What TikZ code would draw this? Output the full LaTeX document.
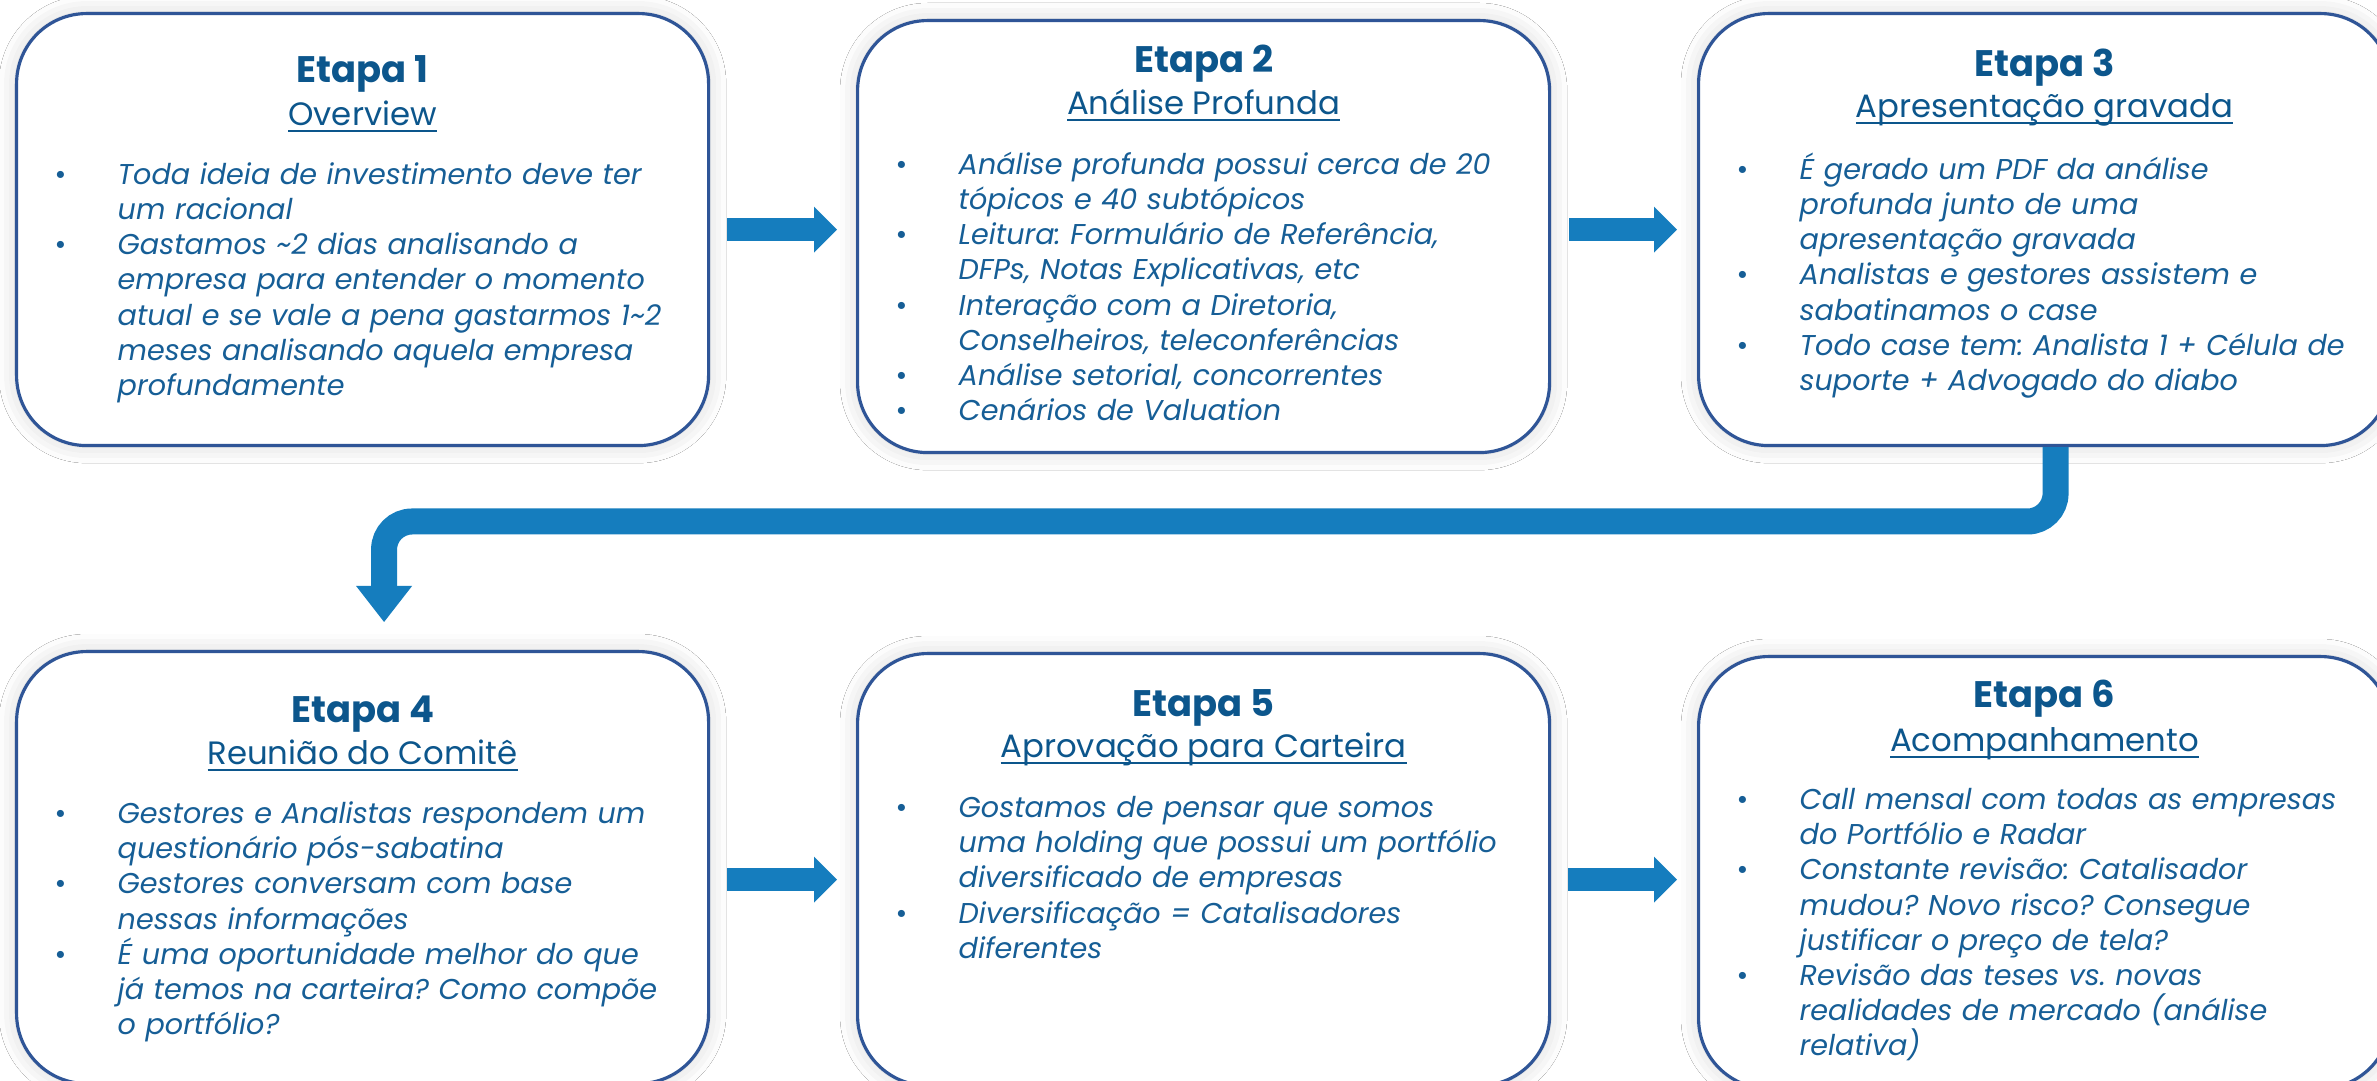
\documentclass[tikz,border=0pt]{standalone}
\usepackage{fontspec}
\setmainfont{Poppins}
\usetikzlibrary{calc, arrows.meta, shadows.blur}

\definecolor{etapaborder}{RGB}{47,85,151}
\definecolor{titleblue}{RGB}{12,86,140}
\definecolor{textblue}{RGB}{22,94,150}
\definecolor{flowblue}{RGB}{21,125,190}

\setlength{\parindent}{0pt}
\frenchspacing
\newcommand{\stageul}[1]{\underline{\smash{#1}}}
\newcommand{\bulfirst}{\noindent\makebox[0.57cm][l]{\hspace*{-0.06cm}\upshape\textbullet}}
\newcommand{\bul}{\par\bulfirst}
\newcommand{\cont}{\par\noindent\hspace*{0.57cm}}

\tikzset{
    etapa/.style = {draw = etapaborder, line width = 0.9pt, fill = white, rounded corners = 0.7cm,
        minimum width = 6.92cm, minimum height = 4.32cm, inner sep = 0pt, anchor = north west,
        blur shadow = {shadow xshift = 0pt, shadow yshift = 0pt, shadow blur radius = 5pt, shadow opacity = 18}},
    etapatitle/.style = {anchor = base, inner sep = 0pt, text = titleblue, font = \fontsize{10.5}{12}\selectfont\bfseries},
    etapasub/.style = {anchor = base, inner sep = 0pt, text = titleblue, font = \fontsize{9.2}{11}\selectfont},
    etapabody/.style = {anchor = base west, inner sep = 0pt, text width = 6.2cm, text = textblue,
        font = \fontsize{8.15}{9.96}\selectfont\itshape\frenchspacing},
    flow/.style = {draw = flowblue, line width = 0.23cm, -{Triangle[width = 0.46cm, length = 0.23cm, line width = 0pt]}}
}

\begin{document}
\begin{tikzpicture}
    \useasboundingbox[fill = white] (0,0) rectangle (23.77,-10.81);
    \foreach \n/\x/\y in {1/0.15/-0.12, 2/8.56/-0.19, 3/16.97/-0.12, 4/0.15/-6.50, 5/8.56/-6.52, 6/16.97/-6.55}
        \node[etapa] (e\n) at (\x,\y) {};
    \foreach \n/\ty/\sy/\sub in {1/0.71/1.14/Overview, 2/0.54/0.96/Análise Profunda, 3/0.65/1.06/Apresentação gravada,
            4/0.73/1.15/Reunião do Comitê, 5/0.65/1.06/Aprovação para Carteira, 6/0.53/0.97/Acompanhamento} {
        \node[etapatitle] (t\n) at ($(e\n.north)+(0,-\ty)$) {Etapa \n};
        \node[etapasub] (s\n) at ($(e\n.north)+(0,-\sy)$) {\stageul{\sub}};
    }
    \node[etapabody] (b1) at ($(e1.north west)+(0.45,-1.73)$) {\bulfirst Toda ideia de investimento deve ter
        \cont um racional
        \bul Gastamos \textasciitilde2 dias analisando a
        \cont empresa para entender o momento
        \cont atual e se vale a pena gastarmos 1\textasciitilde2
        \cont meses analisando aquela empresa
        \cont profundamente};
    \node[etapabody] (b2) at ($(e2.north west)+(0.45,-1.56)$) {\bulfirst Análise profunda possui cerca de 20
        \cont tópicos e 40 subtópicos
        \bul Leitura: Formulário de Referência,
        \cont DFPs, Notas Explicativas, etc
        \bul Interação com a Diretoria,
        \cont Conselheiros, teleconferências
        \bul Análise setorial, concorrentes
        \bul Cenários de Valuation};
    \node[etapabody] (b3) at ($(e3.north west)+(0.45,-1.68)$) {\bulfirst É gerado um PDF da análise
        \cont profunda junto de uma
        \cont apresentação gravada
        \bul Analistas e gestores assistem e
        \cont sabatinamos o case
        \bul Todo case tem: Analista 1 + Célula de
        \cont suporte + Advogado do diabo};
    \node[etapabody] (b4) at ($(e4.north west)+(0.45,-1.74)$) {\bulfirst Gestores e Analistas respondem um
        \cont questionário pós-sabatina
        \bul Gestores conversam com base
        \cont nessas informações
        \bul É uma oportunidade melhor do que
        \cont já temos na carteira? Como compõe
        \cont o portfólio?};
    \node[etapabody] (b5) at ($(e5.north west)+(0.45,-1.66)$) {\bulfirst Gostamos de pensar que somos
        \cont uma holding que possui um portfólio
        \cont diversificado de empresas
        \bul Diversificação = Catalisadores
        \cont diferentes};
    \node[etapabody] (b6) at ($(e6.north west)+(0.45,-1.55)$) {\bulfirst Call mensal com todas as empresas
        \cont do Portfólio e Radar
        \bul Constante revisão: Catalisador
        \cont mudou? Novo risco? Consegue
        \cont justificar o preço de tela?
        \bul Revisão das teses vs. novas
        \cont realidades de mercado (análise
        \cont relativa)};
    \draw[flow] ($(e1.east)+(0.17,0)$) -- ($(e1.east -| e2.west)+(-0.19,0)$);
    \draw[flow] ($(e2.east |- e3.west)+(0.18,0)$) -- ($(e3.west)+(-0.20,0)$);
    \draw[flow] ($(e4.east)+(0.17,-0.12)$) -- ($(e4.east -| e5.west)+(-0.19,-0.12)$);
    \draw[flow] ($(e5.east |- e4.east)+(0.17,-0.12)$) -- ($(e6.west |- e4.east)+(-0.20,-0.12)$);
    \coordinate (drop) at ($(e3.south)+(0.11,0)$);
    \coordinate (fold) at (0,-5.215);
    \coordinate (land) at ($(e4.north)+(0.215,0.28)$);
    \draw[flow, line width = 0.26cm, rounded corners = 0.28cm, -{Triangle[width = 0.56cm, length = 0.36cm, line width = 0pt]}]
        (drop) -- (drop |- fold) -- (fold -| land) -- (land);
\end{tikzpicture}
\end{document}
